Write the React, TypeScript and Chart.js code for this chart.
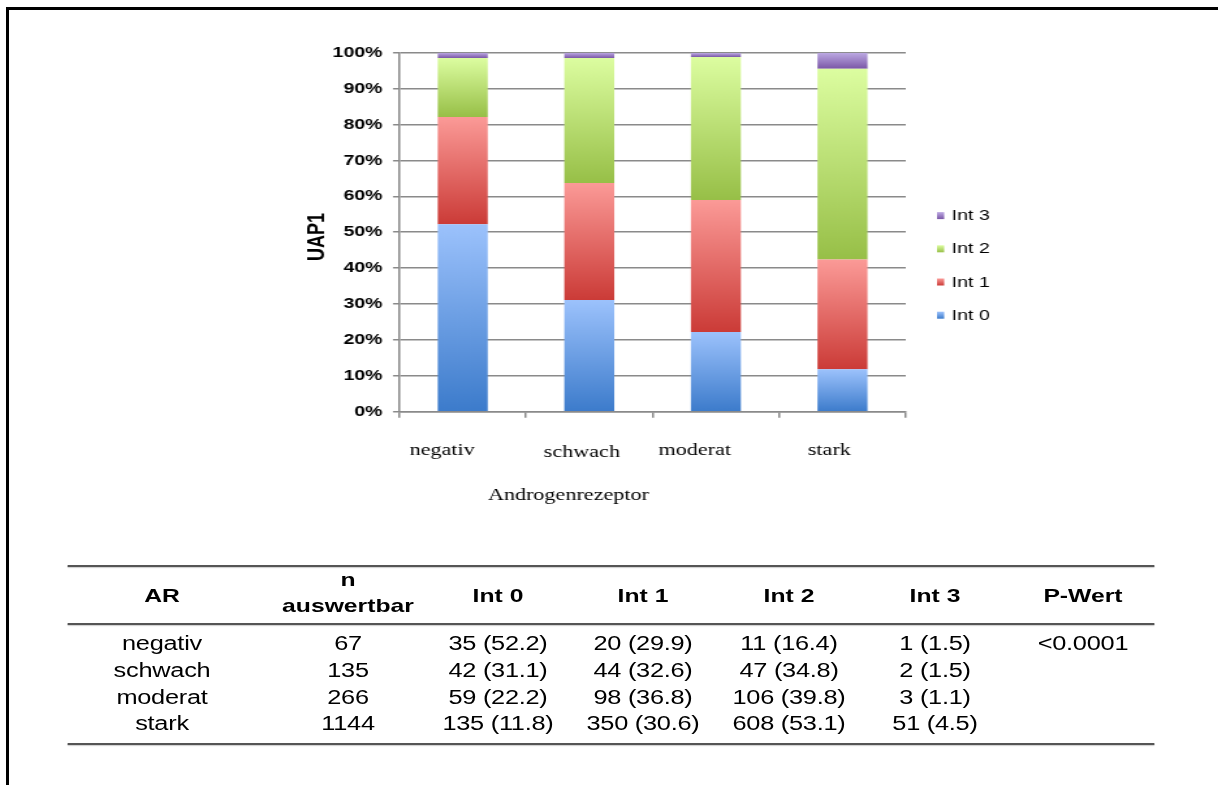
import React, { useEffect, useRef } from "react";
import { Chart, registerables } from "chart.js";

Chart.register(...registerables);

// ---- data ----
const categories = ["negativ", "schwach", "moderat", "stark"];
const seriesNames = ["Int 0", "Int 1", "Int 2", "Int 3"];

// percentages per AR group (share of evaluable cases)
const int0Pct = [52.2, 31.1, 22.2, 11.8];
const int1Pct = [29.9, 32.6, 36.8, 30.6];
const int2Pct = [16.4, 34.8, 39.8, 53.1];
const int3Pct = [1.5, 1.5, 1.1, 4.5];

// absolute counts
const int0Count = [35, 42, 59, 135];
const int1Count = [20, 44, 98, 350];
const int2Count = [11, 47, 106, 608];
const int3Count = [1, 2, 3, 51];
const nEvaluable = [67, 135, 266, 1144];
const pValues = ["<0.0001", "", "", ""];

const yTickValues = [0, 10, 20, 30, 40, 50, 60, 70, 80, 90, 100];
const yAxisTitle = "UAP1";
const xAxisTitle = "Androgenrezeptor";
const tableHeaders = ["AR", "n auswertbar", "Int 0", "Int 1", "Int 2", "Int 3", "P-Wert"];

const seriesPct = [int0Pct, int1Pct, int2Pct, int3Pct];
const seriesCount = [int0Count, int1Count, int2Count, int3Count];

// ---- styling ----
const SX = 1.3; // horizontal stretch of the whole figure
const W = 1218 / SX;
const CANVAS_H = 530;
const PLOT_LEFT = 399 / SX;
const PLOT_RIGHT = 906 / SX;
const PLOT_TOP = 52.7;
const PLOT_BOTTOM = 411.7;
const GRID = "#8a8a8a";
const SANS = '"Liberation Sans", Arial, sans-serif';
const SERIF = '"Liberation Serif", "Times New Roman", serif';

// light (top) -> dark (bottom) fills per series
const fills: [string, string][] = [
  ["#9CC2FC", "#3C7BCB"],
  ["#FB9A97", "#CB3B37"],
  ["#DCFDA0", "#97BF47"],
  ["#BDAAE3", "#7A56A6"],
];

const labelShift = [-15.9, -5.7, -16.3, -10.1];
const labelBaseline = [455, 456.5, 455, 455];
const xTitlePos = { x: 567.8 / SX, y: 500 };
const yTitlePos = { x: 316.7 / SX, y: 237 };
const legendPos = { boxX: 936 / SX, textX: 950.7 / SX, top: 215.6, step: 33.2 };

const tableLeft = 68 / SX;
const tableRight = 1155 / SX;
const ruleYs = [565, 622.5, 742.5];
const colCenters = [162, 348, 498, 643, 789, 935, 1083].map((v) => v / SX);
const headerY = 596;
const rowYs = [643, 670, 697, 723];

function stackRange(ds: number, i: number): [number, number] {
  let start = 0;
  for (let d = 0; d < ds; d++) start += seriesPct[d][i];
  return [start, start + seriesPct[ds][i]];
}

const textPlugin = {
  id: "figureText",
  afterDraw(chart: any) {
    const c: CanvasRenderingContext2D = chart.ctx;
    const x = chart.scales.x;
    c.save();
    c.fillStyle = "#000";

    // category labels
    c.font = `17px ${SERIF}`;
    c.textAlign = "center";
    c.textBaseline = "alphabetic";
    categories.forEach((lab, i) => {
      c.fillText(lab, x.getPixelForValue(i) + labelShift[i], labelBaseline[i]);
    });
    c.fillText(xAxisTitle, xTitlePos.x, xTitlePos.y);

    // y axis title
    c.save();
    c.translate(yTitlePos.x, yTitlePos.y);
    c.rotate(-Math.PI / 2);
    c.font = `bold 18px ${SANS}`;
    c.textBaseline = "middle";
    c.fillText(yAxisTitle, 0, 0);
    c.restore();

    // legend, last series on top
    c.font = `15px ${SANS}`;
    c.textAlign = "left";
    c.textBaseline = "middle";
    const order = seriesNames.map((_, i) => i).reverse();
    order.forEach((s, row) => {
      const cy = legendPos.top + row * legendPos.step;
      const g = c.createLinearGradient(0, cy - 3.5, 0, cy + 3.5);
      g.addColorStop(0, fills[s][0]);
      g.addColorStop(1, fills[s][1]);
      c.fillStyle = g;
      c.fillRect(legendPos.boxX, cy - 3.5, 5.5, 7);
      c.fillStyle = "#000";
      c.fillText(seriesNames[s], legendPos.textX, cy + 0.5);
    });
    c.restore();
  },
};

function StackedChart() {
  const ref = useRef<HTMLCanvasElement | null>(null);
  useEffect(() => {
    if (!ref.current) return;
    const chart = new Chart(ref.current, {
      type: "bar",
      data: {
        labels: categories,
        datasets: seriesPct.map((vals, ds) => ({
          label: seriesNames[ds],
          data: vals,
          borderWidth: 0,
          categoryPercentage: 1,
          barPercentage: 0.395,
          backgroundColor: (ctx: any) => {
            const y = ctx.chart.scales && ctx.chart.scales.y;
            if (!y || ctx.dataIndex === undefined) return fills[ds][1];
            const [a, b] = stackRange(ds, ctx.dataIndex);
            const top = y.getPixelForValue(b);
            const bottom = y.getPixelForValue(a);
            if (!Number.isFinite(top) || !Number.isFinite(bottom) || top === bottom) return fills[ds][1];
            const g = ctx.chart.ctx.createLinearGradient(0, top, 0, bottom);
            g.addColorStop(0, fills[ds][0]);
            g.addColorStop(1, fills[ds][1]);
            return g;
          },
        })),
      },
      options: {
        responsive: false,
        animation: false,
        events: [],
        layout: {
          padding: {
            left: 200,
            right: W - PLOT_RIGHT,
            top: PLOT_TOP,
            bottom: CANVAS_H - PLOT_BOTTOM - 8,
          },
        },
        plugins: { legend: { display: false }, tooltip: { enabled: false }, title: { display: false } },
        scales: {
          x: {
            stacked: true,
            offset: true,
            ticks: { display: false },
            grid: {
              display: true,
              drawOnChartArea: false,
              drawTicks: true,
              tickLength: 6,
              offset: true,
              color: GRID,
              lineWidth: 1.5,
            },
            border: { display: true, color: GRID, width: 1.5 },
            afterFit: (s: any) => {
              s.height = 8;
            },
          },
          y: {
            stacked: true,
            min: 0,
            max: 100,
            afterBuildTicks: (s: any) => {
              s.ticks = yTickValues.map((v) => ({ value: v }));
            },
            ticks: {
              callback: (v: any) => `${v}%`,
              font: { family: SANS, size: 15, weight: "bold" },
              color: "#000",
              padding: 8,
              autoSkip: false,
            },
            grid: { color: GRID, lineWidth: 1.5, tickLength: 5 },
            border: { display: true, color: GRID, width: 1.5 },
            afterFit: (s: any) => {
              s.width = PLOT_LEFT - 200;
            },
          },
        },
      },
      plugins: [textPlugin],
    });
    return () => chart.destroy();
  }, []);
  return (
    <canvas
      ref={ref}
      width={W}
      height={CANVAS_H}
      style={{ position: "absolute", left: 0, top: 0, width: W, height: CANVAS_H }}
    />
  );
}

function Cell({ x, y, text, bold }: { x: number; y: number; text: string; bold?: boolean }) {
  return (
    <div
      style={{
        position: "absolute",
        left: x - 90,
        width: 180,
        top: y - 12,
        height: 24,
        lineHeight: "24px",
        textAlign: "center",
        whiteSpace: "nowrap",
        fontFamily: SANS,
        fontSize: bold ? 19 : 19.5,
        fontWeight: bold ? "bold" : "normal",
        letterSpacing: bold ? 0 : -0.2,
        color: "#000",
      }}
    >
      {text}
    </div>
  );
}

function ResultTable() {
  const rule = (y: number, i: number) => (
    <div
      key={`r${i}`}
      style={{
        position: "absolute",
        left: tableLeft,
        width: tableRight - tableLeft,
        top: y,
        height: 2,
        background: "#555",
        boxShadow: "0 1px 1px rgba(0,0,0,0.2)",
      }}
    />
  );
  const cells: React.ReactNode[] = [];
  tableHeaders.forEach((h, c) => {
    if (h === "n auswertbar") {
      cells.push(<Cell key={`h${c}a`} x={colCenters[c]} y={580} text="n" bold />);
      cells.push(<Cell key={`h${c}b`} x={colCenters[c]} y={606} text="auswertbar" bold />);
    } else {
      cells.push(<Cell key={`h${c}`} x={colCenters[c]} y={headerY} text={h} bold />);
    }
  });
  categories.forEach((cat, r) => {
    const row = [
      cat,
      String(nEvaluable[r]),
      ...seriesCount.map((cnt, s) => `${cnt[r]} (${seriesPct[s][r].toFixed(1)})`),
      pValues[r],
    ];
    row.forEach((t, c) => cells.push(<Cell key={`c${r}-${c}`} x={colCenters[c]} y={rowYs[r]} text={t} />));
  });
  return (
    <>
      {ruleYs.map(rule)}
      {cells}
    </>
  );
}

export default function App() {
  return (
    <div
      style={{
        position: "absolute",
        left: 0,
        top: 0,
        width: 1218,
        height: 785,
        overflow: "hidden",
        background: "#fff",
      }}
    >
      <div
        style={{
          position: "absolute",
          left: 0,
          top: 0,
          width: W,
          height: 785,
          transform: `scaleX(${SX})`,
          transformOrigin: "0 0",
        }}
      >
        <StackedChart />
        <ResultTable />
      </div>
      <div
        style={{
          position: "absolute",
          left: 6,
          top: 7,
          width: 1212,
          height: 778,
          boxSizing: "border-box",
          borderTop: "3px solid #000",
          borderLeft: "3px solid #000",
        }}
      />
    </div>
  );
}
